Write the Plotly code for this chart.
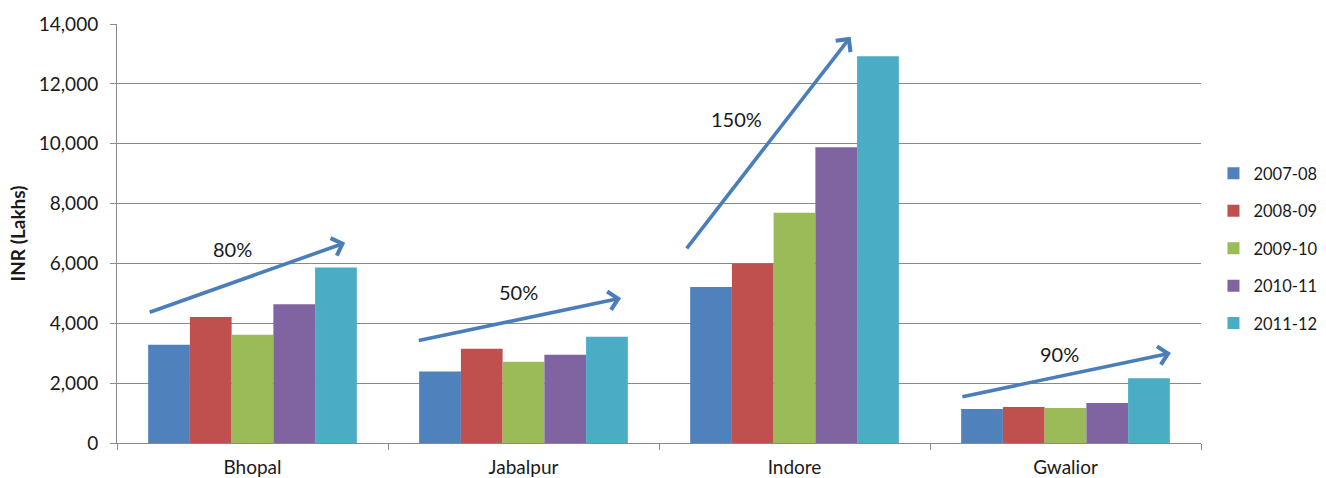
import plotly.graph_objects as go

# Revenue by city and financial year (INR lakhs)
cities = ["Bhopal", "Jabalpur", "Indore", "Gwalior"]
years = ["2007-08", "2008-09", "2009-10", "2010-11", "2011-12"]
fy_2007_08 = [3280, 2390, 5210, 1135]
fy_2008_09 = [4210, 3150, 6000, 1200]
fy_2009_10 = [3615, 2715, 7690, 1170]
fy_2010_11 = [4640, 2950, 9880, 1335]
fy_2011_12 = [5865, 3550, 12920, 2160]
series_values = [fy_2007_08, fy_2008_09, fy_2009_10, fy_2010_11, fy_2011_12]
colors = ["#4F81BD", "#C0504D", "#9BBB59", "#8064A2", "#4BACC6"]

# Growth trend arrows (category index on x, lakhs on y)
growth_labels = ["80%", "50%", "150%", "90%"]
trend_tail_x = [-0.385, 0.608, 1.598, 2.614]
trend_tail_y = [4350, 3415, 6455, 1535]
trend_head_x = [0.342, 1.360, 2.207, 3.389]
trend_head_y = [6690, 4840, 13575, 3005]
label_x = [-0.072, 0.980, 1.786, 2.979]
label_y = [6490, 5060, 10820, 2970]

FONT = "Lato"
TEXT = "#1a1a1a"
GRID = "#8a8a8a"
ARROW = "#4A7EBB"

fig = go.Figure()
for name, vals, col in zip(years, series_values, colors):
    fig.add_trace(go.Bar(
        x=cities, y=vals, name=name, marker_color=col,
        marker_line_width=0, legendgroup=name,
    ))

annotations = []
for hx, hy, tx, ty in zip(trend_head_x, trend_head_y, trend_tail_x, trend_tail_y):
    annotations.append(dict(
        x=hx, y=hy, ax=tx, ay=ty, xref="x", yref="y", axref="x", ayref="y",
        text="", showarrow=True, arrowhead=4, arrowsize=1.0, arrowwidth=3.6,
        arrowcolor=ARROW, standoff=0,
    ))
for lx, ly, lab in zip(label_x, label_y, growth_labels):
    annotations.append(dict(
        x=lx, y=ly, xref="x", yref="y", text=lab, showarrow=False,
        font=dict(family=FONT, size=20, color=TEXT),
    ))

fig.update_layout(
    width=1326, height=478,
    margin=dict(l=117, r=125, t=24, b=35, autoexpand=False),
    paper_bgcolor="white", plot_bgcolor="white",
    barmode="group", bargap=0.23, bargroupgap=0,
    font=dict(family=FONT, size=19, color=TEXT),
    showlegend=True,
    legend=dict(
        x=1.0115, xanchor="left", y=0.464, yanchor="middle",
        font=dict(family=FONT, size=16.5, color=TEXT),
        tracegroupgap=13, itemwidth=30,
    ),
    annotations=annotations,
)
fig.update_xaxes(
    type="category", showline=True, linecolor=GRID, linewidth=1,
    ticks="outside", tickson="boundaries", ticklen=6, tickcolor=GRID,
    showgrid=False, tickfont=dict(family=FONT, size=19, color=TEXT),
    ticklabelstandoff=7, range=[-0.5, 3.5],
)
fig.update_yaxes(
    range=[0, 14000], dtick=2000, tickformat=",",
    showline=True, linecolor=GRID, linewidth=1,
    ticks="outside", ticklen=6, tickcolor=GRID,
    showgrid=True, gridcolor=GRID, gridwidth=1,
    zeroline=False, ticklabelstandoff=8,
    tickfont=dict(family=FONT, size=19, color=TEXT),
    title=dict(text="<b>INR (Lakhs)</b>", standoff=8,
               font=dict(family=FONT, size=19, color=TEXT)),
)

fig.write_html("out.html")
